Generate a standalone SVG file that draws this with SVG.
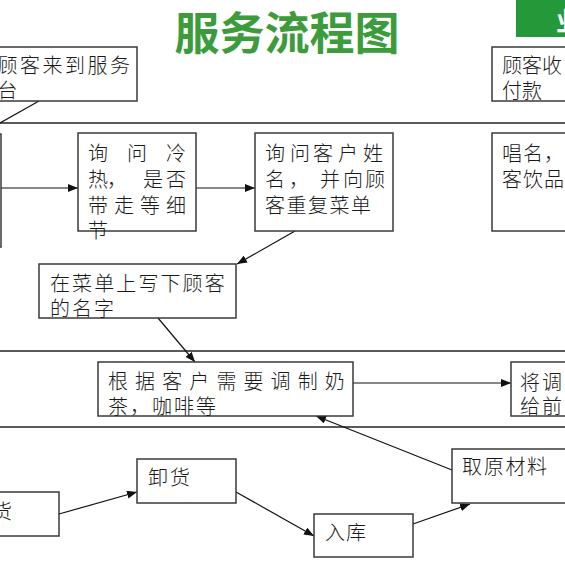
<svg xmlns="http://www.w3.org/2000/svg" width="565" height="565" viewBox="0 0 565 565">
<style>
.box{fill:#fff;stroke:#3a3a3a;stroke-width:1.5}
.lane{stroke:#5a5a5a;stroke-width:2;fill:none}
.t{font-family:"Noto Sans CJK SC","Noto Sans CJK JP",sans-serif;font-size:20px;font-weight:300;fill:#1a1a1a}
.c{stroke:#111;stroke-width:1.2;fill:none}
.title{font-family:"Noto Sans CJK SC",sans-serif;font-size:45px;font-weight:700;fill:#3c9c3c}
</style>
<defs>
<marker id="arr" markerUnits="userSpaceOnUse" markerWidth="10" markerHeight="8" refX="10" refY="4" orient="auto">
<path d="M0,0 L10,4 L0,8 Z" fill="#111"/>
</marker>
</defs>
<rect width="565" height="565" fill="#fff"/>

<g id="title"><text class="title" x="287" y="50" text-anchor="middle">服务流程图</text></g>
<g id="greentab">
<rect x="516" y="-5" width="60" height="42" fill="#25993a"/>
<text x="556" y="31" font-family="Noto Sans CJK SC,sans-serif" font-size="26" font-weight="700" fill="#fff">业</text>
</g>

<g id="lanes">
<line class="lane" x1="0" y1="123" x2="565" y2="123"/>
<line class="lane" x1="0" y1="351" x2="565" y2="351"/>
<line class="lane" x1="0" y1="427" x2="565" y2="427"/>
</g>

<g id="connectors">
<line class="c" x1="39" y1="101" x2="0" y2="123"/>
<line class="c" x1="0" y1="188" x2="78" y2="188" marker-end="url(#arr)"/>
<line class="c" x1="196" y1="188" x2="255" y2="188" marker-end="url(#arr)"/>
<line class="c" x1="295" y1="231" x2="237" y2="264" marker-end="url(#arr)"/>
<line class="c" x1="158" y1="318" x2="195" y2="362" marker-end="url(#arr)"/>
<line class="c" x1="353" y1="383" x2="511" y2="383" marker-end="url(#arr)"/>
<line class="c" x1="452" y1="470" x2="316" y2="416" marker-end="url(#arr)"/>
<line class="c" x1="59" y1="514" x2="137" y2="492" marker-end="url(#arr)"/>
<line class="c" x1="236" y1="492" x2="314" y2="536" marker-end="url(#arr)"/>
<line class="c" x1="413" y1="524" x2="470" y2="504" marker-end="url(#arr)"/>
</g>

<g id="n-arrive">
<rect class="box" x="-50" y="47" width="187" height="54"/>
<text class="t" x="-2.5 20 42.5 65 87.5 110" y="73">顾客来到服务</text>
<text class="t" x="-2.5" y="98">台</text>
</g>

<g id="n-pay">
<rect class="box" x="492" y="47" width="120" height="54"/>
<text class="t" x="502 522 542" y="73">顾客收</text>
<text class="t" x="502 522" y="98">付款</text>
</g>

<g id="n-left">
<rect class="box" x="-50" y="134" width="51" height="113"/>
</g>

<g id="n-ask-temp">
<rect class="box" x="78" y="133" width="118" height="98"/>
<text class="t" x="88 127 166" y="161">询问冷</text>
<text class="t" x="88 107 143 166" y="187">热，是否</text>
<text class="t" x="88 114 140 166" y="213">带走等细</text>
<text class="t" x="88" y="238">节</text>
</g>

<g id="n-ask-name">
<rect class="box" x="255" y="133" width="138" height="98"/>
<text class="t" x="265 290 313 338 363" y="161">询问客户姓</text>
<text class="t" x="265 289 320 343 365" y="187">名，并向顾</text>
<text class="t" x="265 286.5 308 329.5 351" y="213">客重复菜单</text>
</g>

<g id="n-call">
<rect class="box" x="492" y="133" width="120" height="98"/>
<text class="t" x="502 523 544" y="161">唱名，</text>
<text class="t" x="502 523 544" y="187">客饮品</text>
</g>

<g id="n-write">
<rect class="box" x="39" y="264" width="197" height="54"/>
<text class="t" x="50 72.1 94.2 116.3 138.4 160.5 182.6 204.7" y="291">在菜单上写下顾客</text>
<text class="t" x="50 72 94" y="316">的名字</text>
</g>

<g id="n-make">
<rect class="box" x="98" y="362" width="255" height="54"/>
<text class="t" x="108 135.1 162.2 189.3 216.4 243.5 270.6 297.7 324.8" y="389">根据客户需要调制奶</text>
<text class="t" x="108 130 152 174 196" y="414">茶，咖啡等</text>
</g>

<g id="n-serve">
<rect class="box" x="511" y="362" width="100" height="54"/>
<text class="t" x="520 542" y="390">将调</text>
<text class="t" x="520 542" y="414">给前</text>
</g>

<g id="n-goods">
<rect class="box" x="-50" y="492" width="109" height="44"/>
<text class="t" x="-8" y="519">货</text>
</g>

<g id="n-unload">
<rect class="box" x="137" y="459" width="99" height="44"/>
<text class="t" x="148 170" y="485">卸货</text>
</g>

<g id="n-store">
<rect class="box" x="314" y="514" width="99" height="43"/>
<text class="t" x="325 346" y="540">入库</text>
</g>

<g id="n-fetch">
<rect class="box" x="452" y="449" width="160" height="54"/>
<text class="t" x="462 483.7 505.4 527.1" y="474">取原材料</text>
</g>
</svg>
